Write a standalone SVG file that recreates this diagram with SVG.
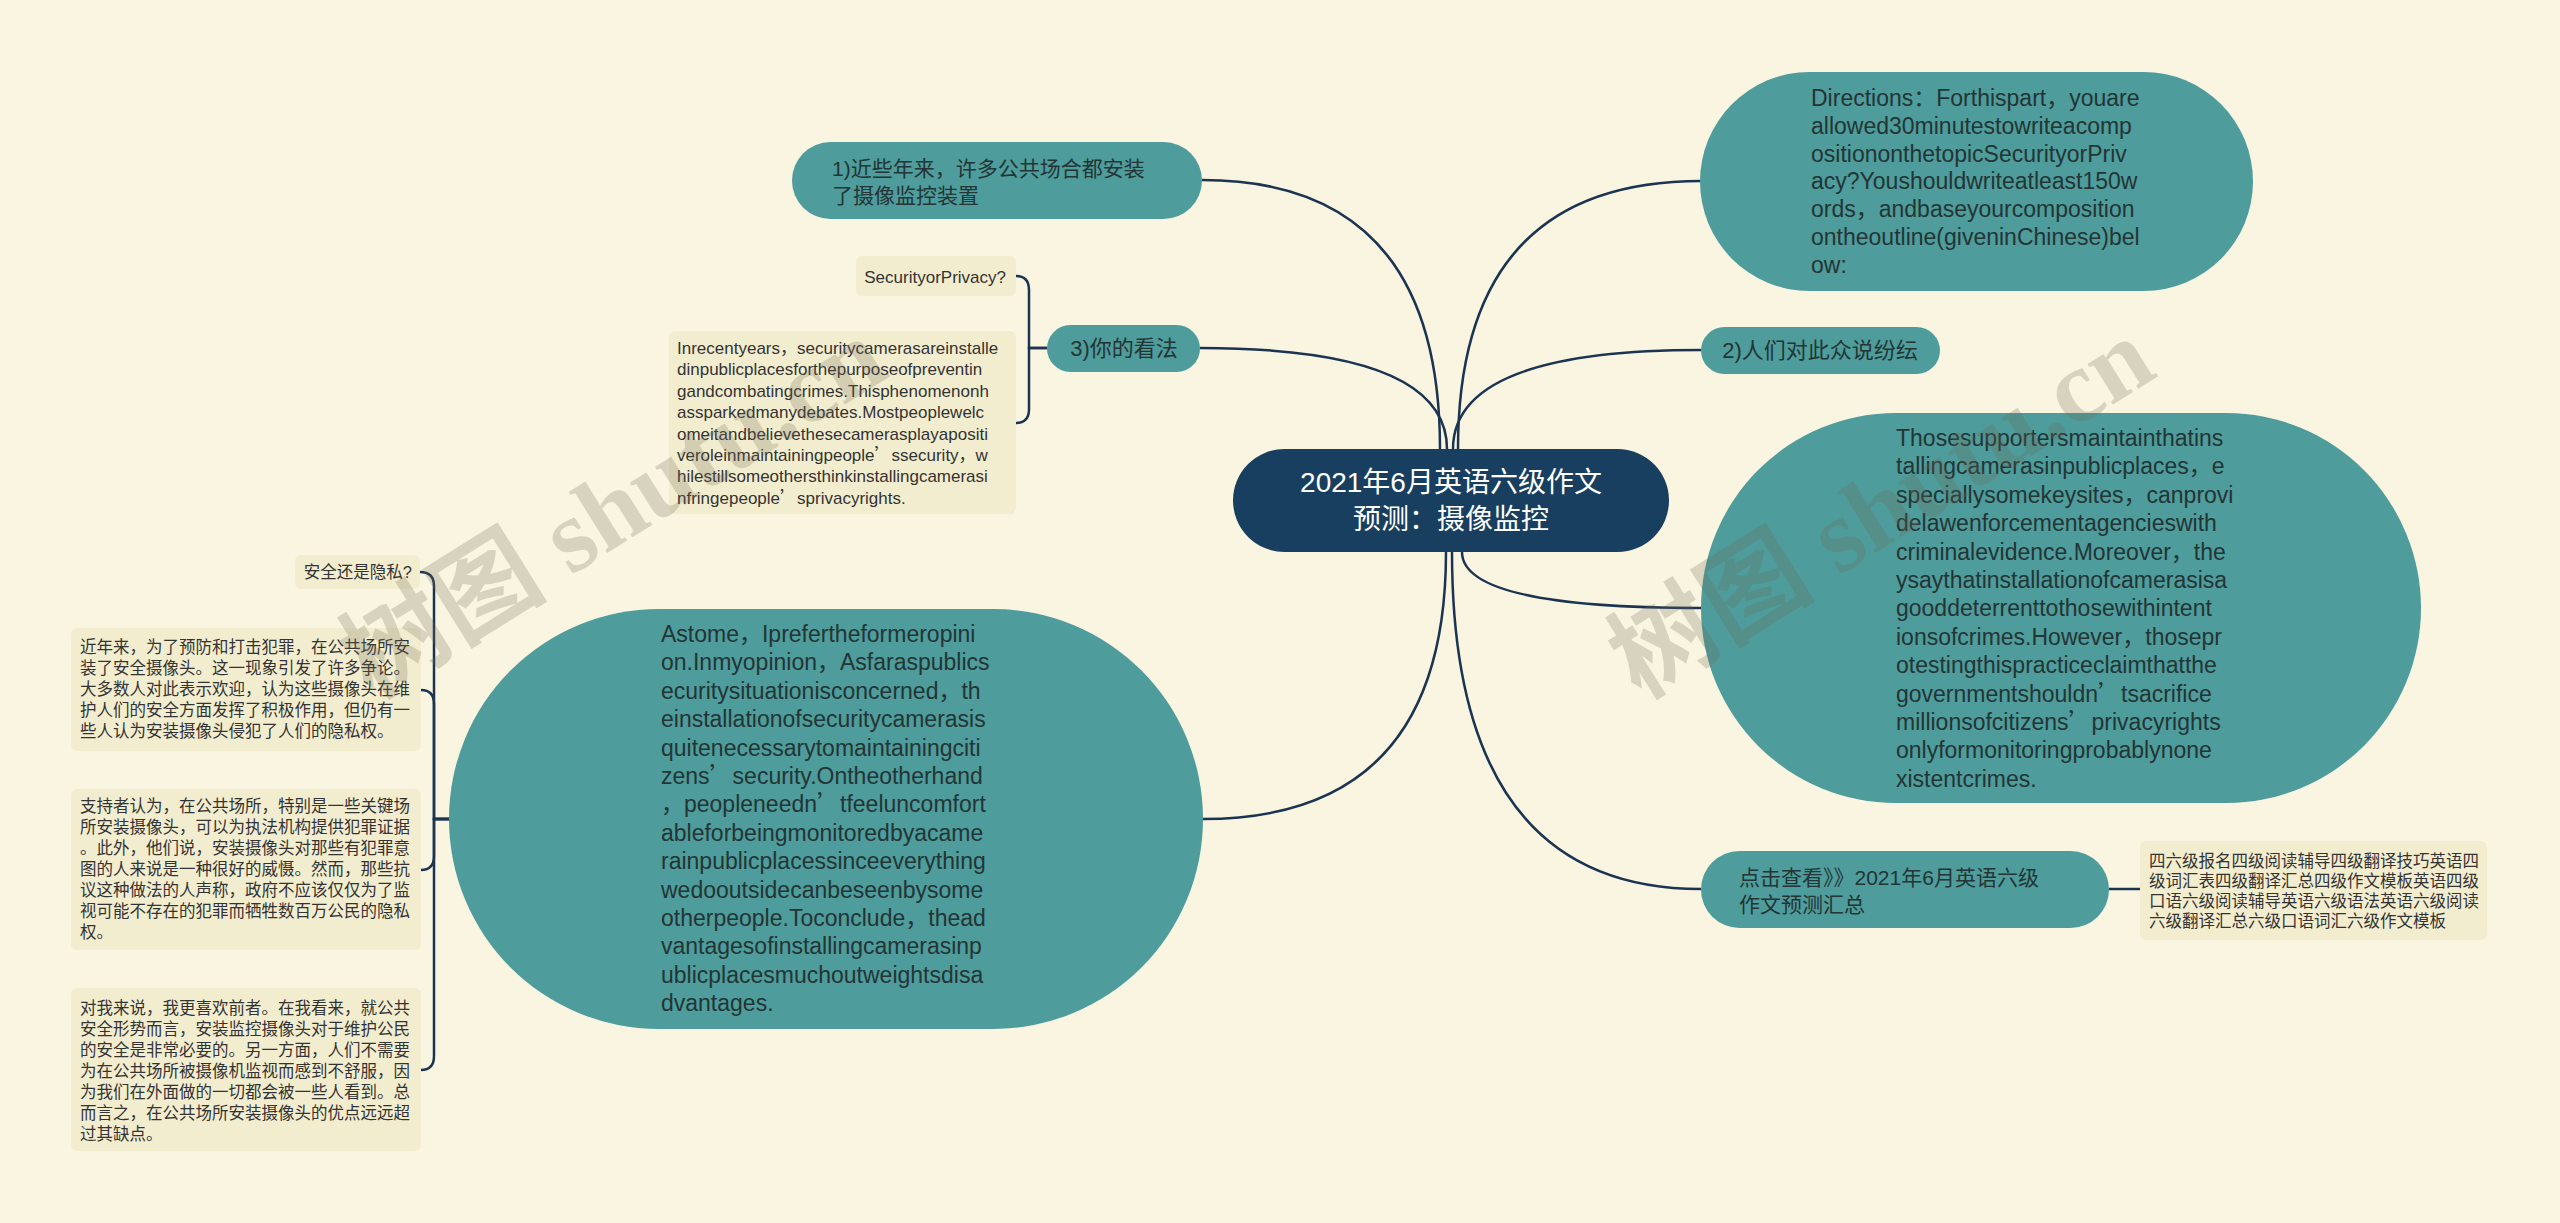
<svg xmlns="http://www.w3.org/2000/svg" width="2560" height="1223" viewBox="0 0 2560 1223">
<style>
text{font-family:"Liberation Sans","Noto Sans CJK SC",sans-serif}
.cj{font-family:"Noto Sans CJK SC",sans-serif}
.teal{fill:#4e9c9b}
.box{fill:#f3edcf}
.t23{font-size:23px;fill:#233535}
.t21{font-size:21px;fill:#233535}
.t22{font-size:22px;fill:#233535}
.s17{font-size:17px;fill:#333}
.s16{font-size:16.5px;fill:#333}
.link{fill:none;stroke:#1b3451;stroke-width:2.5}
.wm{font-family:"Liberation Serif","Noto Sans CJK SC",serif;font-weight:bold;font-size:104px;fill:#6f6a58;opacity:0.24}
</style>
<rect width="2560" height="1223" fill="#f9f5e1"/>
<g id="connectors">
<path class="link" d="M1440,449 Q1440,180 1202,180"/>
<path class="link" d="M1447,449 Q1447,348 1200,348"/>
<path class="link" d="M1458,449 Q1458,181 1701,181"/>
<path class="link" d="M1453,449 Q1453,350 1701,350"/>
<path class="link" d="M1446,552 Q1446,819 1203,819"/>
<path class="link" d="M1462,552 Q1462,608 1701,608"/>
<path class="link" d="M1452,552 Q1452,889 1701,889"/>
<path class="link" d="M2109,889 L2140,889"/>
<path class="link" d="M1047,348 H1029 V290 Q1029,276 1016,276"/>
<path class="link" d="M1047,348 H1029 V409 Q1029,423 1016,423"/>
<path class="link" d="M449,819 H434 V586 Q434,572 420,572"/>
<path class="link" d="M449,819 H434 V704 Q434,690 421,690"/>
<path class="link" d="M449,819 H434 V856 Q434,870 421,870"/>
<path class="link" d="M449,819 H434 V1056 Q434,1070 421,1070"/>
</g>
<g id="center">
<rect x="1233" y="449" width="436" height="103" rx="51.5" fill="#183f5f"/>
<text x="1451" y="492" text-anchor="middle" font-size="28" fill="#ffffff">2021年6月英语六级作文</text>
<text x="1451" y="529" text-anchor="middle" font-size="28" fill="#ffffff">预测：摄像监控</text>
</g>
<g id="directions">
<rect class="teal" x="1700" y="72" width="553" height="219" rx="109.5"/>
<text class="t23" x="1811" y="106">
<tspan x="1811" dy="0">Directions：Forthispart，youare</tspan>
<tspan x="1811" dy="27.8">allowed30minutestowriteacomp</tspan>
<tspan x="1811" dy="27.8">ositiononthetopicSecurityorPriv</tspan>
<tspan x="1811" dy="27.8">acy?Youshouldwriteatleast150w</tspan>
<tspan x="1811" dy="27.8">ords，andbaseyourcomposition</tspan>
<tspan x="1811" dy="27.8">ontheoutline(giveninChinese)bel</tspan>
<tspan x="1811" dy="27.8">ow:</tspan>
</text>
</g>
<g id="n1">
<rect class="teal" x="792" y="142" width="410" height="77" rx="38.5"/>
<text class="t21" x="832" y="176">1)近些年来，许多公共场合都安装</text>
<text class="t21" x="832" y="203">了摄像监控装置</text>
</g>
<g id="n2">
<rect class="teal" x="1701" y="327" width="239" height="47" rx="23.5"/>
<text class="t22" x="1820" y="358" text-anchor="middle">2)人们对此众说纷纭</text>
</g>
<g id="n3">
<rect class="teal" x="1047" y="325" width="153" height="47" rx="23.5"/>
<text class="t22" x="1124" y="356" text-anchor="middle">3)你的看法</text>
</g>
<g id="q-security">
<rect class="box" x="856" y="256" width="160" height="40" rx="6"/>
<text class="s17" x="1006" y="283" text-anchor="end">SecurityorPrivacy?</text>
</g>
<g id="q-recent">
<rect class="box" x="669" y="331" width="347" height="183" rx="6"/>
<text class="s17" x="677" y="354">
<tspan x="677" dy="0">Inrecentyears，securitycamerasareinstalle</tspan>
<tspan x="677" dy="21.4">dinpublicplacesforthepurposeofpreventin</tspan>
<tspan x="677" dy="21.4">gandcombatingcrimes.Thisphenomenonh</tspan>
<tspan x="677" dy="21.4">assparkedmanydebates.Mostpeoplewelc</tspan>
<tspan x="677" dy="21.4">omeitandbelievethesecamerasplayapositi</tspan>
<tspan x="677" dy="21.4">veroleinmaintainingpeople<tspan class="cj">’</tspan>ssecurity，w</tspan>
<tspan x="677" dy="21.4">hilestillsomeothersthinkinstallingcamerasi</tspan>
<tspan x="677" dy="21.4">nfringepeople<tspan class="cj">’</tspan>sprivacyrights.</tspan>
</text>
</g>
<g id="supporters">
<rect class="teal" x="1701" y="413" width="720" height="390" rx="195"/>
<text class="t23" x="1896" y="446">
<tspan x="1896" dy="0">Thosesupportersmaintainthatins</tspan>
<tspan x="1896" dy="28.4">tallingcamerasinpublicplaces，e</tspan>
<tspan x="1896" dy="28.4">speciallysomekeysites，canprovi</tspan>
<tspan x="1896" dy="28.4">delawenforcementagencieswith</tspan>
<tspan x="1896" dy="28.4">criminalevidence.Moreover，the</tspan>
<tspan x="1896" dy="28.4">ysaythatinstallationofcamerasisa</tspan>
<tspan x="1896" dy="28.4">gooddeterrenttothosewithintent</tspan>
<tspan x="1896" dy="28.4">ionsofcrimes.However，thosepr</tspan>
<tspan x="1896" dy="28.4">otestingthispracticeclaimthatthe</tspan>
<tspan x="1896" dy="28.4">governmentshouldn<tspan class="cj">’</tspan>tsacrifice</tspan>
<tspan x="1896" dy="28.4">millionsofcitizens<tspan class="cj">’</tspan>privacyrights</tspan>
<tspan x="1896" dy="28.4">onlyformonitoringprobablynone</tspan>
<tspan x="1896" dy="28.4">xistentcrimes.</tspan>
</text>
</g>
<g id="more">
<rect class="teal" x="1701" y="851" width="408" height="77" rx="38.5"/>
<text class="t21" x="1739" y="885">点击查看》》2021年6月英语六级</text>
<text class="t21" x="1739" y="912">作文预测汇总</text>
</g>
<g id="links-box">
<rect class="box" x="2140" y="841" width="347" height="99" rx="6"/>
<text class="s16" x="2149" y="867">
<tspan x="2149" dy="0">四六级报名四级阅读辅导四级翻译技巧英语四</tspan>
<tspan x="2149" dy="20">级词汇表四级翻译汇总四级作文模板英语四级</tspan>
<tspan x="2149" dy="20">口语六级阅读辅导英语六级语法英语六级阅读</tspan>
<tspan x="2149" dy="20">六级翻译汇总六级口语词汇六级作文模板</tspan>
</text>
</g>
<g id="opinion">
<rect class="teal" x="449" y="609" width="754" height="420" rx="210"/>
<text class="t23" x="661" y="642">
<tspan x="661" dy="0">Astome，Iprefertheformeropini</tspan>
<tspan x="661" dy="28.4">on.Inmyopinion，Asfaraspublics</tspan>
<tspan x="661" dy="28.4">ecuritysituationisconcerned，th</tspan>
<tspan x="661" dy="28.4">einstallationofsecuritycamerasis</tspan>
<tspan x="661" dy="28.4">quitenecessarytomaintainingciti</tspan>
<tspan x="661" dy="28.4">zens<tspan class="cj">’</tspan>security.Ontheotherhand</tspan>
<tspan x="661" dy="28.4">，peopleneedn<tspan class="cj">’</tspan>tfeeluncomfort</tspan>
<tspan x="661" dy="28.4">ableforbeingmonitoredbyacame</tspan>
<tspan x="661" dy="28.4">rainpublicplacessinceeverything</tspan>
<tspan x="661" dy="28.4">wedooutsidecanbeseenbysome</tspan>
<tspan x="661" dy="28.4">otherpeople.Toconclude，thead</tspan>
<tspan x="661" dy="28.4">vantagesofinstallingcamerasinp</tspan>
<tspan x="661" dy="28.4">ublicplacesmuchoutweightsdisa</tspan>
<tspan x="661" dy="28.4">dvantages.</tspan>
</text>
</g>
<g id="c-title">
<rect class="box" x="295" y="555" width="125" height="34" rx="6"/>
<text class="s16" x="412" y="578" text-anchor="end">安全还是隐私?</text>
</g>
<g id="c-recent">
<rect class="box" x="71" y="628" width="350" height="123" rx="6"/>
<text class="s16" x="80" y="653">
<tspan x="80" dy="0">近年来，为了预防和打击犯罪，在公共场所安</tspan>
<tspan x="80" dy="21">装了安全摄像头。这一现象引发了许多争论。</tspan>
<tspan x="80" dy="21">大多数人对此表示欢迎，认为这些摄像头在维</tspan>
<tspan x="80" dy="21">护人们的安全方面发挥了积极作用，但仍有一</tspan>
<tspan x="80" dy="21">些人认为安装摄像头侵犯了人们的隐私权。</tspan>
</text>
</g>
<g id="c-support">
<rect class="box" x="71" y="789" width="350" height="161" rx="6"/>
<text class="s16" x="80" y="812">
<tspan x="80" dy="0">支持者认为，在公共场所，特别是一些关键场</tspan>
<tspan x="80" dy="21">所安装摄像头，可以为执法机构提供犯罪证据</tspan>
<tspan x="80" dy="21">。此外，他们说，安装摄像头对那些有犯罪意</tspan>
<tspan x="80" dy="21">图的人来说是一种很好的威慑。然而，那些抗</tspan>
<tspan x="80" dy="21">议这种做法的人声称，政府不应该仅仅为了监</tspan>
<tspan x="80" dy="21">视可能不存在的犯罪而牺牲数百万公民的隐私</tspan>
<tspan x="80" dy="21">权。</tspan>
</text>
</g>
<g id="c-opinion">
<rect class="box" x="71" y="988" width="350" height="163" rx="6"/>
<text class="s16" x="80" y="1014">
<tspan x="80" dy="0">对我来说，我更喜欢前者。在我看来，就公共</tspan>
<tspan x="80" dy="21">安全形势而言，安装监控摄像头对于维护公民</tspan>
<tspan x="80" dy="21">的安全是非常必要的。另一方面，人们不需要</tspan>
<tspan x="80" dy="21">为在公共场所被摄像机监视而感到不舒服，因</tspan>
<tspan x="80" dy="21">为我们在外面做的一切都会被一些人看到。总</tspan>
<tspan x="80" dy="21">而言之，在公共场所安装摄像头的优点远远超</tspan>
<tspan x="80" dy="21">过其缺点。</tspan>
</text>
</g>
<g id="watermarks">
<text class="wm" transform="translate(372,700) rotate(-32)">树图 shutu.cn</text>
<text class="wm" transform="translate(1640,700) rotate(-32)">树图 shutu.cn</text>
</g>
</svg>
